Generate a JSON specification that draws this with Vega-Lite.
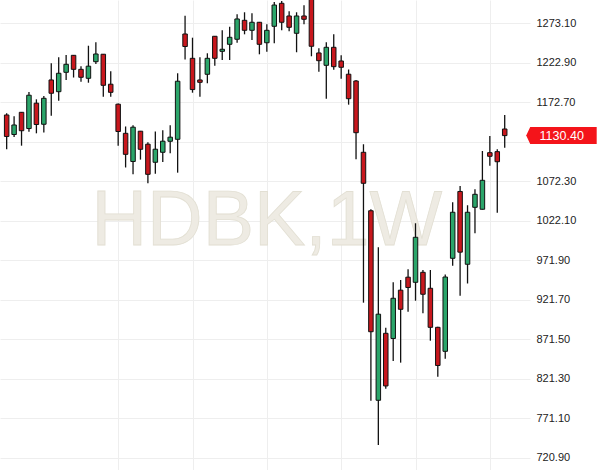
{
  "$schema": "https://vega.github.io/schema/vega-lite/v6.json",
  "width": 530,
  "height": 470,
  "autosize": {"type": "none"},
  "padding": {"left": 0, "top": 0, "right": 70, "bottom": 0},
  "background": "white",
  "config": {"view": {"stroke": null}},
  "data": {"values": [
    {"idx":0,"open":1156.6,"high":1158.7,"low":1113.0,"close":1129.3},
    {"idx":1,"open":1131.8,"high":1154.9,"low":1128.6,"close":1143.9},
    {"idx":2,"open":1160.0,"high":1160.4,"low":1117.6,"close":1136.6},
    {"idx":3,"open":1139.4,"high":1185.8,"low":1135.4,"close":1181.7},
    {"idx":4,"open":1171.6,"high":1176.5,"low":1133.3,"close":1144.5},
    {"idx":5,"open":1144.8,"high":1180.7,"low":1134.3,"close":1177.8},
    {"idx":6,"open":1201.1,"high":1222.3,"low":1155.7,"close":1184.2},
    {"idx":7,"open":1186.2,"high":1229.9,"low":1174.8,"close":1209.6},
    {"idx":8,"open":1210.8,"high":1232.8,"low":1201.1,"close":1221.0},
    {"idx":9,"open":1232.4,"high":1232.8,"low":1204.2,"close":1214.6},
    {"idx":10,"open":1214.6,"high":1218.6,"low":1198.9,"close":1204.5},
    {"idx":11,"open":1203.2,"high":1244.6,"low":1197.6,"close":1218.6},
    {"idx":12,"open":1224.3,"high":1249.0,"low":1221.4,"close":1234.1},
    {"idx":13,"open":1233.8,"high":1234.1,"low":1179.8,"close":1194.3},
    {"idx":14,"open":1195.7,"high":1212.2,"low":1179.8,"close":1185.4},
    {"idx":15,"open":1170.3,"high":1171.2,"low":1117.6,"close":1135.6},
    {"idx":16,"open":1133.3,"high":1142.0,"low":1089.9,"close":1106.6},
    {"idx":17,"open":1097.5,"high":1143.6,"low":1081.2,"close":1141.1},
    {"idx":18,"open":1136.0,"high":1136.3,"low":1099.9,"close":1113.0},
    {"idx":19,"open":1119.5,"high":1122.0,"low":1069.8,"close":1081.2},
    {"idx":20,"open":1096.5,"high":1135.6,"low":1081.9,"close":1113.1},
    {"idx":21,"open":1109.2,"high":1137.1,"low":1096.9,"close":1123.3},
    {"idx":22,"open":1123.2,"high":1143.5,"low":1107.9,"close":1128.4},
    {"idx":23,"open":1125.7,"high":1209.6,"low":1083.3,"close":1199.5},
    {"idx":24,"open":1259.5,"high":1282.8,"low":1227.0,"close":1243.6},
    {"idx":25,"open":1228.6,"high":1254.8,"low":1184.9,"close":1188.9},
    {"idx":26,"open":1201.1,"high":1229.9,"low":1179.8,"close":1198.1},
    {"idx":27,"open":1208.3,"high":1235.0,"low":1196.9,"close":1228.6},
    {"idx":28,"open":1256.6,"high":1257.0,"low":1219.2,"close":1228.6},
    {"idx":29,"open":1237.5,"high":1264.2,"low":1226.5,"close":1240.1},
    {"idx":30,"open":1246.4,"high":1268.8,"low":1226.5,"close":1255.3},
    {"idx":31,"open":1252.8,"high":1284.5,"low":1248.4,"close":1278.6},
    {"idx":32,"open":1276.9,"high":1287.1,"low":1259.1,"close":1264.2},
    {"idx":33,"open":1264.2,"high":1285.8,"low":1251.9,"close":1274.4},
    {"idx":34,"open":1274.4,"high":1274.8,"low":1233.7,"close":1246.4},
    {"idx":35,"open":1248.4,"high":1271.8,"low":1237.0,"close":1264.2},
    {"idx":36,"open":1269.3,"high":1300.2,"low":1247.7,"close":1296.3},
    {"idx":37,"open":1298.5,"high":1301.4,"low":1264.2,"close":1274.4},
    {"idx":38,"open":1282.4,"high":1288.3,"low":1262.9,"close":1268.0},
    {"idx":39,"open":1260.4,"high":1287.1,"low":1236.3,"close":1282.4},
    {"idx":40,"open":1282.4,"high":1296.0,"low":1271.8,"close":1278.2},
    {"idx":41,"open":1308.0,"high":1312.0,"low":1231.2,"close":1243.9},
    {"idx":42,"open":1235.4,"high":1241.3,"low":1211.6,"close":1225.6},
    {"idx":43,"open":1219.7,"high":1249.0,"low":1177.3,"close":1242.6},
    {"idx":44,"open":1242.6,"high":1259.1,"low":1214.1,"close":1218.0},
    {"idx":45,"open":1225.2,"high":1232.4,"low":1202.7,"close":1217.2},
    {"idx":46,"open":1208.4,"high":1214.4,"low":1169.7,"close":1177.3},
    {"idx":47,"open":1199.8,"high":1201.1,"low":1100.3,"close":1134.1},
    {"idx":48,"open":1109.2,"high":1119.4,"low":918.1,"close":1069.8},
    {"idx":49,"open":1034.9,"high":1036.8,"low":793.4,"close":881.2},
    {"idx":50,"open":794.1,"high":988.5,"low":737.3,"close":903.5},
    {"idx":51,"open":879.2,"high":886.3,"low":808.8,"close":812.3},
    {"idx":52,"open":872.6,"high":944.0,"low":844.0,"close":923.7},
    {"idx":53,"open":934.0,"high":946.9,"low":841.9,"close":909.7},
    {"idx":54,"open":950.5,"high":960.5,"low":906.7,"close":937.4},
    {"idx":55,"open":944.0,"high":1019.0,"low":920.6,"close":1001.2},
    {"idx":56,"open":956.7,"high":959.6,"low":904.6,"close":928.8},
    {"idx":57,"open":936.4,"high":959.6,"low":869.8,"close":886.8},
    {"idx":58,"open":886.8,"high":887.5,"low":824.1,"close":838.3},
    {"idx":59,"open":856.3,"high":953.9,"low":846.9,"close":950.7},
    {"idx":60,"open":974.5,"high":1045.7,"low":965.1,"close":1033.0},
    {"idx":61,"open":1059.4,"high":1066.4,"low":927.0,"close":982.3},
    {"idx":62,"open":966.9,"high":1041.9,"low":942.5,"close":1033.0},
    {"idx":63,"open":1039.3,"high":1062.2,"low":1006.3,"close":1055.8},
    {"idx":64,"open":1036.8,"high":1110.8,"low":1036.5,"close":1073.6},
    {"idx":65,"open":1108.7,"high":1129.9,"low":1092.2,"close":1104.1},
    {"idx":66,"open":1110.0,"high":1113.0,"low":1032.4,"close":1097.2},
    {"idx":67,"open":1138.8,"high":1156.6,"low":1115.0,"close":1130.4}
  ]},
  "encoding": {
    "x": {
      "field": "idx", "type": "quantitative",
      "scale": {"domain": [-0.224, 69.73], "nice": false, "zero": false},
      "axis": {"values": [15, 25, 35, 45, 55, 65], "labels": false, "ticks": false, "domain": false, "title": null, "grid": true, "gridColor": "#eeeeee", "gridWidth": 1}
    }
  },
  "layer": [
    {
      "transform": [{"filter": "datum.idx == 35"}],
      "mark": {"type": "text", "font": "Liberation Sans", "fontSize": 77, "fill": "#eeebe3", "stroke": "#e2dfd3", "strokeWidth": 0.8, "align": "center", "baseline": "alphabetic"},
      "encoding": {
        "y": {"datum": 992, "type": "quantitative", "scale": {"domain": [705.5, 1302.7], "nice": false, "zero": false}},
        "text": {"value": "HDBK,1W"}
      }
    },
    {
      "mark": {"type": "rule", "color": "#111111", "strokeWidth": 1.3, "clip": true},
      "encoding": {
        "y": {"field": "low", "type": "quantitative",
          "scale": {"domain": [705.5, 1302.7], "nice": false, "zero": false},
          "axis": {"orient": "right", "values": [720.9, 771.1, 821.3, 871.5, 921.7, 971.9, 1022.1, 1072.3, 1122.5, 1172.7, 1222.9, 1273.1], "format": ".2f", "labelExpr": "datum.value == 1122.5 ? '' : datum.label", "title": null, "domain": false, "ticks": false, "labelPadding": 6, "labelFont": "Liberation Sans", "labelFontSize": 11, "labelColor": "#222222", "grid": true, "gridColor": "#eeeeee", "gridWidth": 1}},
        "y2": {"field": "high"}
      }
    },
    {
      "mark": {"type": "bar", "width": 4.5, "stroke": "#111111", "strokeWidth": 1, "clip": true},
      "encoding": {
        "y": {"field": "open", "type": "quantitative"},
        "y2": {"field": "close"},
        "fill": {
          "condition": {"test": "datum.close < datum.open", "value": "#c8171d"},
          "value": "#2ba56a"
        }
      }
    },
    {
      "transform": [{"filter": "datum.idx == 67"}],
      "mark": {"type": "point", "filled": true, "fill": "#f4141a", "opacity": 1, "size": 10000,
        "shape": "M 0.43 0 L 0.51 -0.17 L 1.84 -0.17 L 1.84 0.17 L 0.51 0.17 Z"},
      "encoding": {
        "y": {"field": "close", "type": "quantitative"}
      }
    },
    {
      "transform": [{"filter": "datum.idx == 67"}],
      "mark": {"type": "text", "font": "Liberation Sans", "fontSize": 12.5, "fill": "white", "align": "center", "baseline": "middle", "dx": 57},
      "encoding": {
        "y": {"field": "close", "type": "quantitative"},
        "text": {"field": "close", "format": ".2f"}
      }
    }
  ]
}
